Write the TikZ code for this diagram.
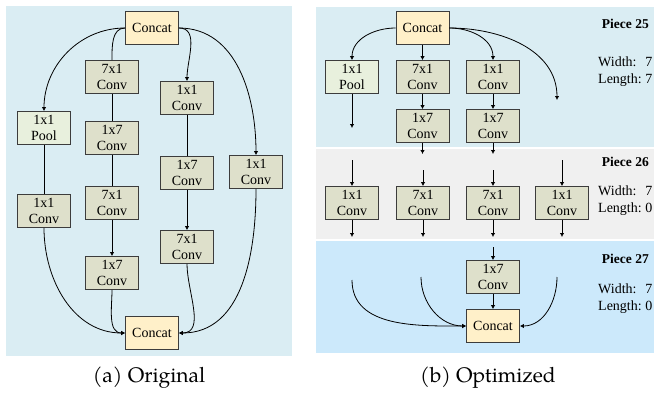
\documentclass[tikz,border=0pt]{standalone}
\usepackage{fontspec}
\setmainfont{Liberation Serif}
\newfontfamily\capfont{TeX Gyre Pagella}
\definecolor{PanelBlue}{HTML}{DAEDF3}
\definecolor{PanelGray}{HTML}{F0F0F0}
\definecolor{PanelSky}{HTML}{CCE9FB}
\definecolor{ConvFill}{HTML}{DEE0CB}
\definecolor{PoolFill}{HTML}{E8F0DD}
\definecolor{ConcatFill}{HTML}{FFF0C9}
\definecolor{BoxEdge}{HTML}{3C3C3C}
\usetikzlibrary{arrows.meta,positioning}
\tikzset{
  block/.style={draw=BoxEdge, line width=0.8pt, align=center, minimum width=53pt, minimum height=33pt, inner sep=0pt, font=\fontsize{14}{16.5}\selectfont},
  conv/.style={block, fill=ConvFill},
  pool/.style={block, fill=PoolFill},
  concat/.style={block, fill=ConcatFill},
  arrow/.style={-{Latex[length=4pt,width=4.5pt]}, line width=0.8pt, black},
  link/.style={line width=0.8pt, black},
  piece/.style={font=\bfseries\fontsize{13.5}{16}\selectfont, anchor=east, inner sep=0pt},
  dims/.style={font=\fontsize{14}{17}\selectfont, anchor=west, inner sep=0pt},
  caption/.style={font=\capfont\fontsize{21}{25}\selectfont}
}
\begin{document}
\begin{tikzpicture}[x=1pt, y=1pt]
  \useasboundingbox (0,0) rectangle (654,-394);
  % backgrounds
  \fill[PanelBlue] (6,-6) rectangle (292,-356);
  \fill[PanelBlue] (316,-7) rectangle (654,-147);
  \fill[PanelGray] (316,-149) rectangle (654,-239);
  \fill[PanelSky] (316,-241) rectangle (654,-353);

  % (a) original
  \node[concat] (aTop) at (152,-28) {Concat};
  \node[pool] (aPool) at (44,-128) {1x1\\Pool};
  \node[conv] (aPoolConv) at (44,-211) {1x1\\Conv};
  \node[conv] (aSevA) at (112,-77) {7x1\\Conv};
  \node[conv] (aOneA) at (112,-138) {1x7\\Conv};
  \node[conv] (aSevB) at (112,-203) {7x1\\Conv};
  \node[conv] (aOneB) at (112,-273) {1x7\\Conv};
  \node[conv] (aMidIn) at (187,-98) {1x1\\Conv};
  \node[conv] (aMidOne) at (187,-173) {1x7\\Conv};
  \node[conv] (aMidSev) at (187,-247) {7x1\\Conv};
  \node[conv] (aRight) at (256,-172) {1x1\\Conv};
  \node[concat] (aBot) at (152,-333) {Concat};

  \draw[arrow] (aTop.west) to[out=180, in=90] (aPool.north);
  \draw[link] (aTop.west) to[out=180, in=90] (aSevA.north);
  \draw[arrow] (aTop.east) to[out=0, in=90] (aMidIn.north);
  \draw[arrow] (aTop.east) to[out=0, in=90] (aRight.north);
  \draw[link] (aPool) -- (aPoolConv);
  \draw[link] (aSevA) -- (aOneA);
  \draw[link] (aOneA) -- (aSevB);
  \draw[arrow] (aSevB) -- (aOneB);
  \draw[link] (aMidIn) -- (aMidOne);
  \draw[arrow] (aMidOne) -- (aMidSev);
  \draw[arrow] (aPoolConv.south) to[out=-90, in=180] (aBot.west);
  \draw[arrow] (aOneB.south) to[out=-90, in=180] (aBot.west);
  \draw[arrow] (aMidSev.south) to[out=-90, in=0] (aBot.east);
  \draw[arrow] (aRight.south) to[out=-90, in=0] (aBot.east);

  \node[caption] (capA) at (149,-378) {(a) Original};

  % (b) optimized, piece 25
  \node[concat] (bTop) at (422.5,-28) {Concat};
  \node[pool] (bPool) at (352,-77) {1x1\\Pool};
  \node[conv] (bSev) at (422.5,-77) {7x1\\Conv};
  \node[conv] (bOne) at (493,-77) {1x1\\Conv};
  \node[conv] (bSevOne) at (422.5,-126) {1x7\\Conv};
  \node[conv] (bOneOne) at (493,-126) {1x7\\Conv};
  \coordinate (bPoolOut) at (352,-128);
  \coordinate (bFarOut) at (557,-100);
  \coordinate (bSevOut) at (422.5,-154);
  \coordinate (bOneOut) at (493,-154);

  \draw[arrow] (bTop.west) to[out=180, in=90] (bPool.north);
  \draw[arrow] (bTop) -- (bSev);
  \draw[arrow] (bTop.east) to[out=0, in=90] (bOne.north);
  \draw[arrow] (bTop.east) to[out=0, in=90] (bFarOut);
  \draw[arrow] (bPool) -- (bPoolOut);
  \draw[arrow] (bSev) -- (bSevOne);
  \draw[arrow] (bOne) -- (bOneOne);
  \draw[arrow] (bSevOne) -- (bSevOut);
  \draw[arrow] (bOneOne) -- (bOneOut);

  % piece 26
  \node[conv] (cA) at (352,-203) {1x1\\Conv};
  \node[conv] (cB) at (423,-203) {7x1\\Conv};
  \node[conv] (cC) at (493,-203) {7x1\\Conv};
  \node[conv] (cD) at (562,-203) {1x1\\Conv};
  \coordinate (cAin) at (352,-160);
  \coordinate (cBin) at (423,-170);
  \coordinate (cCin) at (493,-170);
  \coordinate (cDin) at (562,-160);
  \coordinate (cAout) at (352,-237);
  \coordinate (cBout) at (423,-237);
  \coordinate (cCout) at (493,-237);
  \coordinate (cDout) at (562,-237);
  \foreach \c in {A,B,C,D} {
    \draw[arrow] (c\c in) -- (c\c);
    \draw[arrow] (c\c) -- (c\c out);
  }

  % piece 27
  \node[conv] (dOne) at (493,-277) {1x7\\Conv};
  \node[concat] (dCat) at (493,-326) {Concat};
  \coordinate (dIn) at (493,-247);
  \coordinate (dA) at (352,-280);
  \coordinate (dB) at (421,-277);
  \coordinate (dD) at (557,-277);
  \draw[arrow] (dIn) -- (dOne);
  \draw[arrow] (dOne) -- (dCat);
  \draw[arrow] (dA) to[out=-90, in=180] (dCat.west);
  \draw[arrow] (dB) to[out=-90, in=180] (dCat.west);
  \draw[arrow] (dD) to[out=-90, in=0] (dCat.east);

  % piece labels
  \node[piece] (pA) at (649,-24) {Piece 25};
  \node[piece] (pB) at (649,-162) {Piece 26};
  \node[piece] (pC) at (649,-259) {Piece 27};
  \node[dims] (wA) at (598,-71.5) {\begin{tabular}{@{}l@{\ }l@{}}Width: & 7\\Length: & 7\end{tabular}};
  \node[dims] (wB) at (598,-201) {\begin{tabular}{@{}l@{\ }l@{}}Width: & 7\\Length: & 0\end{tabular}};
  \node[dims] (wC) at (598,-298.5) {\begin{tabular}{@{}l@{\ }l@{}}Width: & 7\\Length: & 0\end{tabular}};

  \node[caption] (capB) at (488,-378) {(b) Optimized};
\end{tikzpicture}
\end{document}
